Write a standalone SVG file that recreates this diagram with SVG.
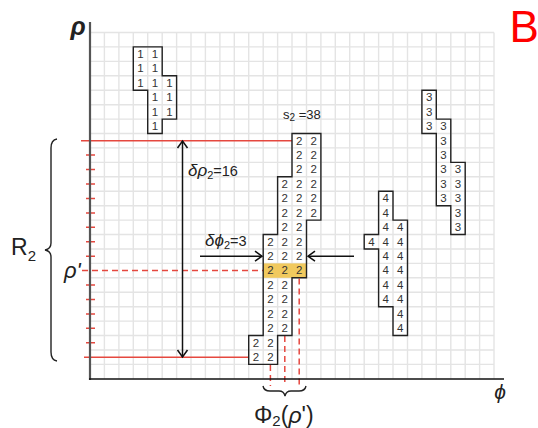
<svg xmlns="http://www.w3.org/2000/svg" width="538" height="428" viewBox="0 0 538 428">
<style>
text{font-family:"Liberation Sans",Arial,sans-serif;fill:#222}
.d{font-size:11.5px;fill:#333;text-anchor:middle}
.it{font-style:italic}
.cl{fill:none;stroke:#222;stroke-width:1.4}
.red{stroke:#e5483f;stroke-width:1.5;fill:none}
.dash{stroke:#e5483f;stroke-width:1.5;fill:none;stroke-dasharray:6 4}
.arr{stroke:#111;stroke-width:1.5;fill:none}
</style>
<defs>
<marker id="ah" viewBox="0 0 10 10" refX="9" refY="5" markerWidth="10" markerHeight="10" markerUnits="userSpaceOnUse" orient="auto-start-reverse" overflow="visible">
<path d="M2,0 L9,5 L2,10" fill="none" stroke="#111" stroke-width="1.5"/>
</marker>
</defs>
<rect width="538" height="428" fill="#fff"/>
<g id="grid" stroke="#e4e4e4" stroke-width="1.4" fill="none">
<path d="M104.4 32.5V378.8M118.9 32.5V378.8M133.3 32.5V378.8M147.7 32.5V378.8M162.2 32.5V378.8M176.6 32.5V378.8M191 32.5V378.8M205.4 32.5V378.8M219.9 32.5V378.8M234.3 32.5V378.8M248.7 32.5V378.8M263.2 32.5V378.8M277.6 32.5V378.8M292 32.5V378.8M306.5 32.5V378.8M320.9 32.5V378.8M335.3 32.5V378.8M349.7 32.5V378.8M364.2 32.5V378.8M378.6 32.5V378.8M393 32.5V378.8M407.5 32.5V378.8M421.9 32.5V378.8M436.3 32.5V378.8M450.8 32.5V378.8M465.2 32.5V378.8M479.6 32.5V378.8M494 32.5V378.8"/>
<path d="M90 32.5H494M90 46.9H494M90 61.4H494M90 75.8H494M90 90.2H494M90 104.7H494M90 119.1H494M90 133.5H494M90 147.9H494M90 162.4H494M90 176.8H494M90 191.2H494M90 205.7H494M90 220.1H494M90 234.5H494M90 249H494M90 263.4H494M90 277.8H494M90 292.2H494M90 306.7H494M90 321.1H494M90 335.5H494M90 350H494M90 364.4H494"/>
</g>
<g id="guides">
<path class="red" d="M81 140.7H292M84 357.2H248.7"/>
<path class="red" d="M86 155.1H95M86 169.6H95M86 184H95M86 198.4H95M86 212.9H95M86 227.3H95M86 241.7H95M86 256.2H95M86 285H95M86 299.5H95M86 313.9H95M86 328.3H95M86 342.7H95"/>
<path class="dash" d="M82 270.6H263.2"/>
<path class="dash" d="M270.4 365V386M284.8 336V386M299.2 278.5V386"/>
</g>
<g id="axes">
<path d="M90 22V380" stroke="#555" stroke-width="2.2" fill="none"/>
<path d="M89 379H504" stroke="#111" stroke-width="1.5" fill="none"/>
<text x="78" y="35" class="it" font-size="25" text-anchor="middle" font-weight="bold">ρ</text>
<text x="500" y="399" class="it" font-size="21" text-anchor="middle">ϕ</text>
</g>
<g id="cluster1">
<path class="cl" d="M133.3 46.9H162.2V75.8H176.6V119.1H162.2V133.5H147.7V90.2H133.3Z"/>
<text class="d" x="140.5 154.9" y="57.9">11</text>
<text class="d" x="140.5 154.9" y="72.4">11</text>
<text class="d" x="140.5 154.9 169.4" y="86.8">111</text>
<text class="d" x="154.9 169.4" y="101.2">11</text>
<text class="d" x="154.9 169.4" y="115.7">11</text>
<text class="d" x="154.9" y="130.1">1</text>
</g>
<g id="cluster2">
<rect x="263.2" y="263.4" width="43.3" height="14.4" fill="#f1c95e"/>
<path class="cl" d="M292 133.5H320.9V220.1H306.5V277.8H292V335.5H277.6V364.4H248.7V335.5H263.2V234.5H277.6V176.8H292Z"/>
<text class="d" x="299.2 313.7" y="144.5">22</text>
<text class="d" x="299.2 313.7" y="158.9">22</text>
<text class="d" x="299.2 313.7" y="173.4">22</text>
<text class="d" x="284.8 299.2 313.7" y="187.8">222</text>
<text class="d" x="284.8 299.2 313.7" y="202.2">222</text>
<text class="d" x="284.8 299.2 313.7" y="216.7">222</text>
<text class="d" x="284.8 299.2" y="231.1">22</text>
<text class="d" x="270.4 284.8 299.2" y="245.5">222</text>
<text class="d" x="270.4 284.8 299.2" y="260">222</text>
<text class="d" x="270.4 284.8 299.2" y="274.4">222</text>
<text class="d" x="270.4 284.8" y="288.8">22</text>
<text class="d" x="270.4 284.8" y="303.2">22</text>
<text class="d" x="270.4 284.8" y="317.7">22</text>
<text class="d" x="270.4 284.8" y="332.1">22</text>
<text class="d" x="256 270.4" y="346.5">22</text>
<text class="d" x="256 270.4" y="361">22</text>
</g>
<g id="cluster3">
<path class="cl" d="M421.9 90.2H436.3V119.1H450.8V162.4H465.2V234.5H450.8V205.7H436.3V133.5H421.9Z"/>
<text class="d" x="429.1" y="101.2">3</text>
<text class="d" x="429.1" y="115.7">3</text>
<text class="d" x="429.1 443.5" y="130.1">33</text>
<text class="d" x="443.5" y="144.5">3</text>
<text class="d" x="443.5" y="158.9">3</text>
<text class="d" x="443.5 458" y="173.4">33</text>
<text class="d" x="443.5 458" y="187.8">33</text>
<text class="d" x="443.5 458" y="202.2">33</text>
<text class="d" x="458" y="216.7">3</text>
<text class="d" x="458" y="231.1">3</text>
</g>
<g id="cluster4">
<path class="cl" d="M378.6 191.2H393V220.1H407.5V335.5H393V306.7H378.6V249H364.2V234.5H378.6Z"/>
<text class="d" x="385.8" y="202.2">4</text>
<text class="d" x="385.8" y="216.7">4</text>
<text class="d" x="385.8 400.2" y="231.1">44</text>
<text class="d" x="371.4 385.8 400.2" y="245.5">444</text>
<text class="d" x="385.8 400.2" y="260">44</text>
<text class="d" x="385.8 400.2" y="274.4">44</text>
<text class="d" x="385.8 400.2" y="288.8">44</text>
<text class="d" x="385.8 400.2" y="303.2">44</text>
<text class="d" x="400.2" y="317.7">4</text>
<text class="d" x="400.2" y="332.1">4</text>
</g>
<g id="connectors">
<path class="arr" d="M182.5 141V357" marker-start="url(#ah)" marker-end="url(#ah)"/>
<path class="arr" d="M200 256.2H262" marker-end="url(#ah)"/>
<path class="arr" d="M354 256.2H308" marker-end="url(#ah)"/>
</g>
<g id="labels">
<text x="283" y="119" font-size="13">s<tspan font-size="10" dy="2">2</tspan><tspan dy="-2"> =38</tspan></text>
<text x="188" y="176" font-size="14.5"><tspan class="it" font-size="17">δρ</tspan><tspan font-size="11" dy="3">2</tspan><tspan dy="-3">=16</tspan></text>
<text x="205" y="245.5" font-size="14.5"><tspan class="it" font-size="17">δϕ</tspan><tspan font-size="11" dy="3">2</tspan><tspan dy="-3">=3</tspan></text>
<text x="64" y="278" class="it" font-size="22">ρ'</text>
<text x="11" y="255" font-size="23">R<tspan font-size="15" dy="6">2</tspan></text>
<path d="M57 139Q51 140 51 148V243Q51 249 45 250Q51 251 51 257V352Q51 360 57 361" fill="none" stroke="#222" stroke-width="1.4"/>
<path d="M263 386Q264 391 270 391H279Q284 391 285 396Q286 391 291 391H299Q305 391 306 386" fill="none" stroke="#222" stroke-width="1.4"/>
<text x="254" y="423" font-size="23">Φ<tspan font-size="15" dy="3">2</tspan><tspan dy="-3">(</tspan><tspan class="it">ρ</tspan>')</text>
<text x="509.5" y="42" font-size="44" style="fill:#ff0000">B</text>
</g>
</svg>
